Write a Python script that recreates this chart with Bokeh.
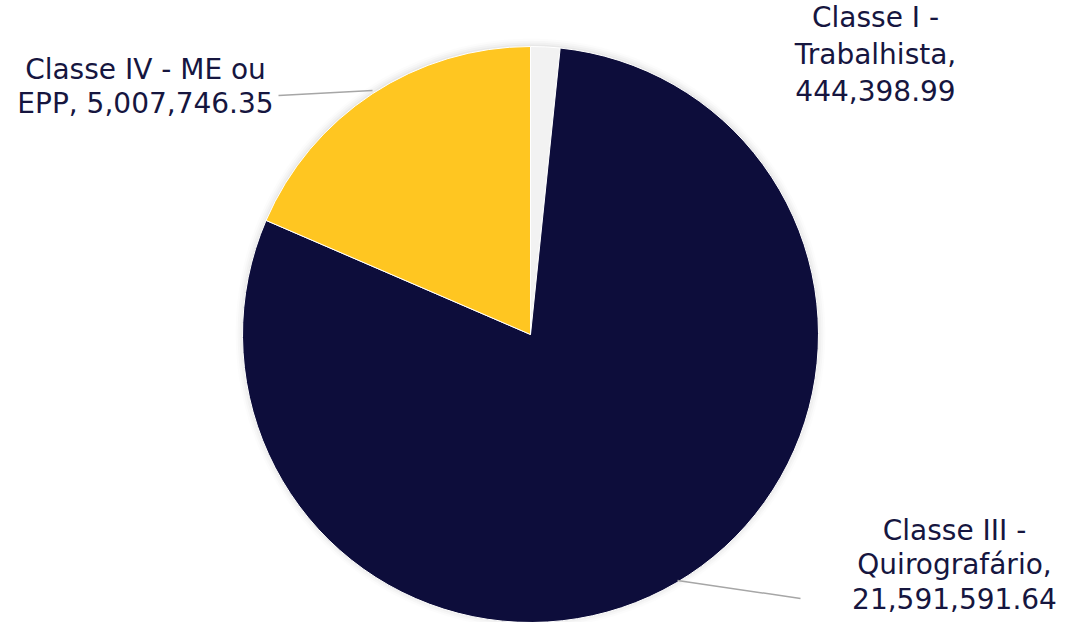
import math
from bokeh.plotting import figure
from bokeh.models import ColumnDataSource, Range1d
from bokeh.core.properties import value
from bokeh.embed import file_html
from bokeh.resources import INLINE

categories = ["Classe I - Trabalhista", "Classe III - Quirografário", "Classe IV - ME ou EPP"]
values = [444398.99, 21591591.64, 5007746.35]
colors = ["#F2F2F2", "#0D0D3B", "#FFC621"]
label_lines = [
    ["Classe I -", "Trabalhista,", "444,398.99"],
    ["Classe III -", "Quirografário,", "21,591,591.64"],
    ["Classe IV - ME ou", "EPP, 5,007,746.35"],
]

W, H = 1062, 622
p = figure(width=W, height=H, output_backend="svg", toolbar_location=None,
           x_range=Range1d(0, W), y_range=Range1d(0, H), min_border=0)
p.axis.visible = False
p.grid.visible = False
p.outline_line_color = None
p.background_fill_color = "white"
p.border_fill_color = "white"


def d(px, py):
    return px, 630 - py


cx, cy = d(530, 342)
r = 288
total = sum(values)
starts, ends = [], []
cum = 0.0
for v in values:
    a0 = cum / total * 2 * math.pi
    cum += v
    a1 = cum / total * 2 * math.pi
    starts.append(math.pi / 2 - a0)
    ends.append(math.pi / 2 - a1)

# soft shadow
for i, a in enumerate([0.035, 0.025, 0.018, 0.012]):
    p.circle(x=cx, y=cy + 1, radius=r + 1 + i * 2, fill_color="black", fill_alpha=a, line_color=None)

src = ColumnDataSource(dict(x=[cx] * 3, y=[cy] * 3, start=starts, end=ends, color=colors))
p.wedge(x="x", y="y", radius=r, start_angle="start", end_angle="end", direction="clock",
        fill_color="color", line_color="white", line_width=1, source=src)

l4 = [d(278, 103), d(372, 98)]
l3 = [d(677, 588), d(800, 606)]
for seg in (l4, l3):
    p.line(x=[seg[0][0], seg[1][0]], y=[seg[0][1], seg[1][1]], line_color="#A6A6A6", line_width=1.5)

label_pos = [(875, [25, 62, 98]), (954, [538, 572, 606]), (145, [77, 111])]
tx, ty, tt = [], [], []
for lines, (px, pys) in zip(label_lines, label_pos):
    for line, py in zip(lines, pys):
        x, y = d(px, py)
        tx.append(x); ty.append(y); tt.append(line)
p.text(x=tx, y=ty, text=tt, text_align="center", text_baseline="middle",
       text_font=value("DejaVu Sans"), text_font_size="28px", text_color="#16163F")

open("out.html", "w").write(file_html(p, INLINE))
